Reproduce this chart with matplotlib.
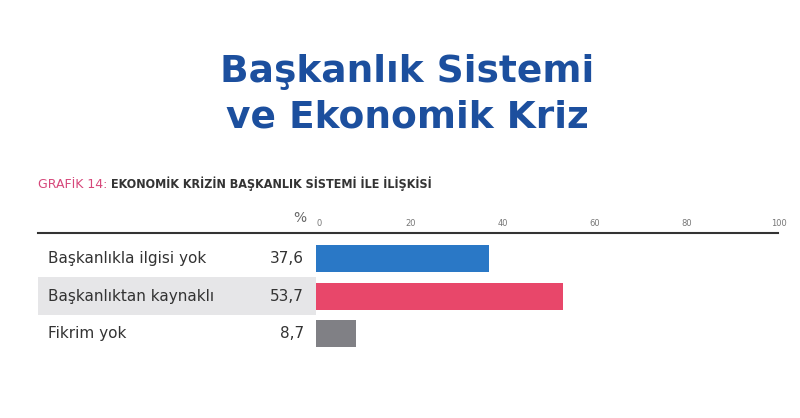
import matplotlib
matplotlib.use("Agg")
import matplotlib.pyplot as plt
from matplotlib.patches import Rectangle

categories = ["Başkanlıkla ilgisi yok", "Başkanlıktan kaynaklı", "Fikrim yok"]
values = [37.6, 53.7, 8.7]
value_labels = ["37,6", "53,7", "8,7"]
colors = ["#2a78c6", "#e8476a", "#808085"]
ticks = [0, 20, 40, 60, 80, 100]

W, H = 800, 418
fig = plt.figure(figsize=(8, 4.18), dpi=100)
fig.patch.set_facecolor("white")

def fx(px): return px / W
def fy(py): return 1 - py / H

fig.text(fx(407), fy(72), "Başkanlık Sistemi", ha="center", va="center",
         fontsize=27, fontweight="heavy", color="#1c4f9e", family="DejaVu Sans")
fig.text(fx(407), fy(117), "ve Ekonomik Kriz", ha="center", va="center",
         fontsize=27, fontweight="heavy", color="#1c4f9e", family="DejaVu Sans")
t1 = fig.text(fx(38), fy(184), "GRAFİK 14: ", ha="left", va="center",
              fontsize=9, color="#d6477a", family="DejaVu Sans")
fig.canvas.draw()
bb = t1.get_window_extent()
fig.text(bb.x1 / W, fy(184), "EKONOMİK KRİZİN BAŞKANLIK SİSTEMİ İLE İLİŞKİSİ", ha="left",
         va="center", fontsize=9, fontweight="bold", color="#333333",
         family="DejaVu Sans", stretch="condensed")

ax = fig.add_axes([fx(316), fy(352), fx(776) - fx(316), (352 - 233) / H])
ax.set_xlim(0, 100)
ax.set_ylim(2.49, -0.68)
ax.axis("off")

ax.add_patch(Rectangle((-60.4, 0.5), 60.4, 1.0, facecolor="#e6e6e8",
                       edgecolor="none", clip_on=False, zorder=0))
ax.plot([-60.4, 100.5], [-0.68, -0.68], color="#333333", lw=1.5, clip_on=False)

pos = list(range(len(categories)))
ax.barh(pos, values, height=0.72, color=colors, zorder=2)
for p, c, v in zip(pos, categories, value_labels):
    ax.text(-58.3, p, c, ha="left", va="center", fontsize=11, color="#333333",
            clip_on=False)
    ax.text(-2.6, p, v, ha="right", va="center", fontsize=11, color="#333333",
            clip_on=False)
for t in ticks:
    ax.text(t + 0.6, -0.82, str(t), ha="center", va="bottom", fontsize=6,
            color="#777777", clip_on=False)
ax.text(-3.5, -0.9, "%", ha="center", va="bottom", fontsize=10,
        color="#666666", clip_on=False)

fig.savefig("out.png", dpi=100, facecolor="white")
